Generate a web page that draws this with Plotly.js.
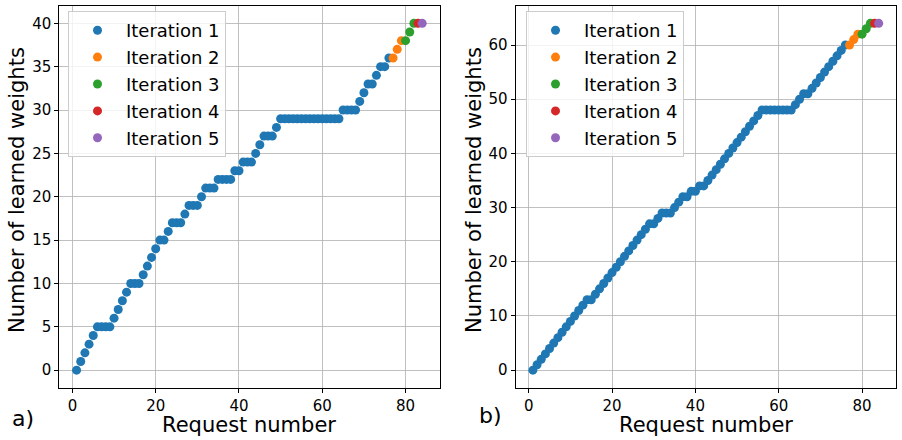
<!DOCTYPE html>
<html>
<head>
<meta charset="utf-8">
<script src="https://cdn.plot.ly/plotly-3.0.1.min.js"></script>
<style>html,body{margin:0;padding:0;background:#fff;}#chart{width:902px;height:440px;}</style>
</head>
<body>
<div id="chart"></div>
<script>
// ---------- data ----------
const seriesNames = ["Iteration 1", "Iteration 2", "Iteration 3", "Iteration 4", "Iteration 5"];
const seriesColors = ["#1f77b4", "#ff7f0e", "#2ca02c", "#d62728", "#9467bd"];

// panel a)
const aReq1 = [1,2,3,4,5,6,7,8,9,10,11,12,13,14,15,16,17,18,19,20,21,22,23,24,25,26,27,28,29,30,31,32,33,34,35,36,37,38,39,40,41,42,43,44,45,46,47,48,49,50,51,52,53,54,55,56,57,58,59,60,61,62,63,64,65,66,67,68,69,70,71,72,73,74,75,76];
const aW1 = [0,1,2,3,4,5,5,5,5,6,7,8,9,10,10,10,11,12,13,14,15,15,16,17,17,17,18,19,19,19,20,21,21,21,22,22,22,22,23,23,24,24,24,25,26,27,27,27,28,29,29,29,29,29,29,29,29,29,29,29,29,29,29,29,30,30,30,30,31,32,33,33,34,35,35,36];
const aReq2 = [77,78,79];
const aW2 = [36,37,38];
const aReq3 = [80,81,82];
const aW3 = [38,39,40];
const aReq4 = [83];
const aW4 = [40];
const aReq5 = [84];
const aW5 = [40];

// panel b)
const bReq1 = aReq1;
const bW1 = [0,1,2,3,4,5,6,7,8,9,10,11,12,13,13,14,15,16,17,18,19,20,21,22,23,24,25,26,27,27,28,29,29,29,30,31,32,32,33,33,34,34,35,36,37,38,39,40,41,42,43,44,45,46,47,48,48,48,48,48,48,48,48,49,50,51,51,52,53,54,55,56,57,58,59,60];
const bReq2 = [77,78,79];
const bW2 = [60,61,62];
const bReq3 = [80,81,82];
const bW3 = [62,63,64];
const bReq4 = [83];
const bW4 = [64];
const bReq5 = [84];
const bW5 = [64];

const xTicks = [0,20,40,60,80];
const aYTicks = [0,5,10,15,20,25,30,35,40];
const bYTicks = [0,10,20,30,40,50,60];
const xTitle = "Request number";
const yTitle = "Number of learned weights";
const panelLabels = ["a)", "b)"];

// ---------- traces ----------
const aSets = [[aReq1,aW1],[aReq2,aW2],[aReq3,aW3],[aReq4,aW4],[aReq5,aW5]];
const bSets = [[bReq1,bW1],[bReq2,bW2],[bReq3,bW3],[bReq4,bW4],[bReq5,bW5]];
const traces = [];
aSets.forEach((s, i) => traces.push({
  type: "scatter", mode: "markers", x: s[0], y: s[1], name: seriesNames[i],
  marker: {color: seriesColors[i], size: 9}, xaxis: "x", yaxis: "y",
  legend: "legend", legendgroup: "a" + i
}));
bSets.forEach((s, i) => traces.push({
  type: "scatter", mode: "markers", x: s[0], y: s[1], name: seriesNames[i],
  marker: {color: seriesColors[i], size: 9}, xaxis: "x2", yaxis: "y2",
  legend: "legend2", legendgroup: "b" + i
}));

const tickFont = {family: "DejaVu Sans", size: 15, color: "#000"};
const titleFont = {family: "DejaVu Sans", size: 21, color: "#000"};
const axisBase = {
  showline: true, mirror: true, linecolor: "#000", linewidth: 1,
  showgrid: true, gridcolor: "#b0b0b0", gridwidth: 0.8,
  zeroline: false, ticks: "outside", ticklen: 4, tickcolor: "#000",
  tickfont: tickFont, automargin: false
};
const yDomain = [52.5/440, 434/440];
const xRange = [-3.15, 88.15];

const legendBase = {
  bgcolor: "rgba(255,255,255,0.8)", bordercolor: "#cccccc", borderwidth: 1,
  font: {family: "DejaVu Sans", size: 18, color: "#000"},
  xanchor: "left", yanchor: "top", tracegroupgap: 0.5, itemwidth: 47,
  traceorder: "grouped"
};

function titleAnn(text, x, y, angle) {
  return {text: text, xref: "paper", yref: "paper", x: x / 902, y: 1 - y / 440,
    xanchor: "center", yanchor: "middle", textangle: angle, showarrow: false, font: titleFont};
}

const layout = {
  width: 902, height: 440,
  margin: {l: 0, r: 0, t: 0, b: 0},
  paper_bgcolor: "#fff", plot_bgcolor: "#fff",
  showlegend: true,
  xaxis: Object.assign({}, axisBase, {domain: [59.3/902, 439.5/902], range: xRange, tickvals: xTicks, anchor: "y"}),
  yaxis: Object.assign({}, axisBase, {domain: yDomain, range: [-2, 42], tickvals: aYTicks, anchor: "x"}),
  xaxis2: Object.assign({}, axisBase, {domain: [515.6/902, 896/902], range: xRange, tickvals: xTicks, anchor: "y2"}),
  yaxis2: Object.assign({}, axisBase, {domain: yDomain, range: [-3.2, 67.2], tickvals: bYTicks, anchor: "x2"}),
  legend: Object.assign({}, legendBase, {x: 68/902, y: 1 - 11/440}),
  legend2: Object.assign({}, legendBase, {x: 526/902, y: 1 - 11/440}),
  annotations: [
    titleAnn(xTitle, 249.4, 425, 0),
    titleAnn(xTitle, 705.8, 425, 0),
    titleAnn(yTitle, 17, 190, -90),
    titleAnn(yTitle, 474, 190, -90),
    {text: panelLabels[0], xref: "paper", yref: "paper", x: 10/902, y: 1 - 418/440, xanchor: "left", yanchor: "middle",
     showarrow: false, font: {family: "DejaVu Sans", size: 22, color: "#000"}},
    {text: panelLabels[1], xref: "paper", yref: "paper", x: 477/902, y: 1 - 415/440, xanchor: "left", yanchor: "middle",
     showarrow: false, font: {family: "DejaVu Sans", size: 22, color: "#000"}}
  ]
};

Plotly.newPlot("chart", traces, layout, {displayModeBar: false, staticPlot: true});
</script>
</body>
</html>
